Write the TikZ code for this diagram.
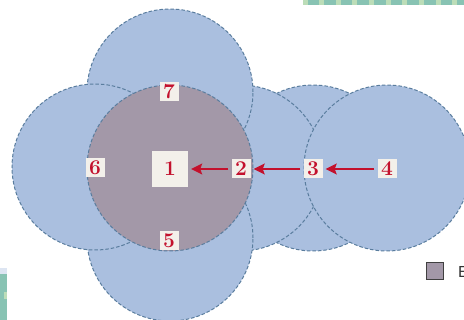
\documentclass[tikz,border=0pt]{standalone}
\usepackage{fontspec}
\usetikzlibrary{arrows.meta}
\newfontfamily\keyfont{Liberation Sans}
\definecolor{cellblue}{HTML}{AABFDF}
\definecolor{coregray}{HTML}{A398A8}
\definecolor{rimblue}{HTML}{5A7D9E}
\definecolor{labred}{HTML}{C3112D}
\definecolor{labpaper}{HTML}{F3F0EA}
\definecolor{stripteal}{HTML}{88C3B3}
\definecolor{strippale}{HTML}{BCDDB8}

\begin{document}
\begin{tikzpicture}[x=1pt,y=-1pt]
    \tikzstyle{cell}=[fill=cellblue, draw=rimblue, line width=1pt, dash pattern=on 3.5pt off 2pt]
    \tikzstyle{num}=[fill=labpaper, inner sep=0pt, minimum size=19pt, font=\fontsize{21}{21}\selectfont\bfseries, text=labred]
    \tikzstyle{flow}=[labred, line width=1.8pt, -{Stealth[length=11pt,width=11pt,inset=2pt]}, shorten <=3pt, shorten >=3pt]
    \tikzstyle{keybox}=[fill=coregray, draw=black!75, line width=1pt, minimum size=17pt, inner sep=0pt]

    \useasboundingbox (0,0) rectangle (464,320);
    \clip (0,0) rectangle (464,320);

    \fill[stripteal] (303,0) rectangle (464,5);
    \foreach \sx in {303,319,336,352,369,386,402,419,436,452}
        \fill[strippale] (\sx,0) rectangle ++(5,5);
    \fill[cellblue!40] (0,268) rectangle (7,274);
    \fill[stripteal] (0,274) rectangle (7,320);
    \fill[strippale] (4,292) rectangle (7,299);

    \foreach \cx/\cy in {313/168, 240/168, 387/168, 170/92, 170/238, 95/167}
        \draw[cell] (\cx,\cy) circle [radius=83pt];
    \draw[cell, fill=coregray] (170,168) circle [radius=83pt];

    \node[num, minimum size=36pt] (n1) at (170,169) {1};
    \node[num] (n2) at (241,169) {2};
    \node[num] (n3) at (313,169) {3};
    \node[num] (n4) at (387,169) {4};
    \node[num] (n5) at (169,241) {5};
    \node[num] (n6) at (95,168) {6};
    \node[num] (n7) at (169,92) {7};

    \draw[flow] (n4) -- (n3);
    \draw[flow] (n3) -- (n2);
    \draw[flow] (n2) -- (n1);

    \node[keybox] (key) at (434.5,271.5) {};
    \node[anchor=west, inner sep=0pt, text=black!80, font=\keyfont\fontsize{16}{16}\selectfont] (keytext) at (458,271.5) {E};
\end{tikzpicture}
\end{document}
